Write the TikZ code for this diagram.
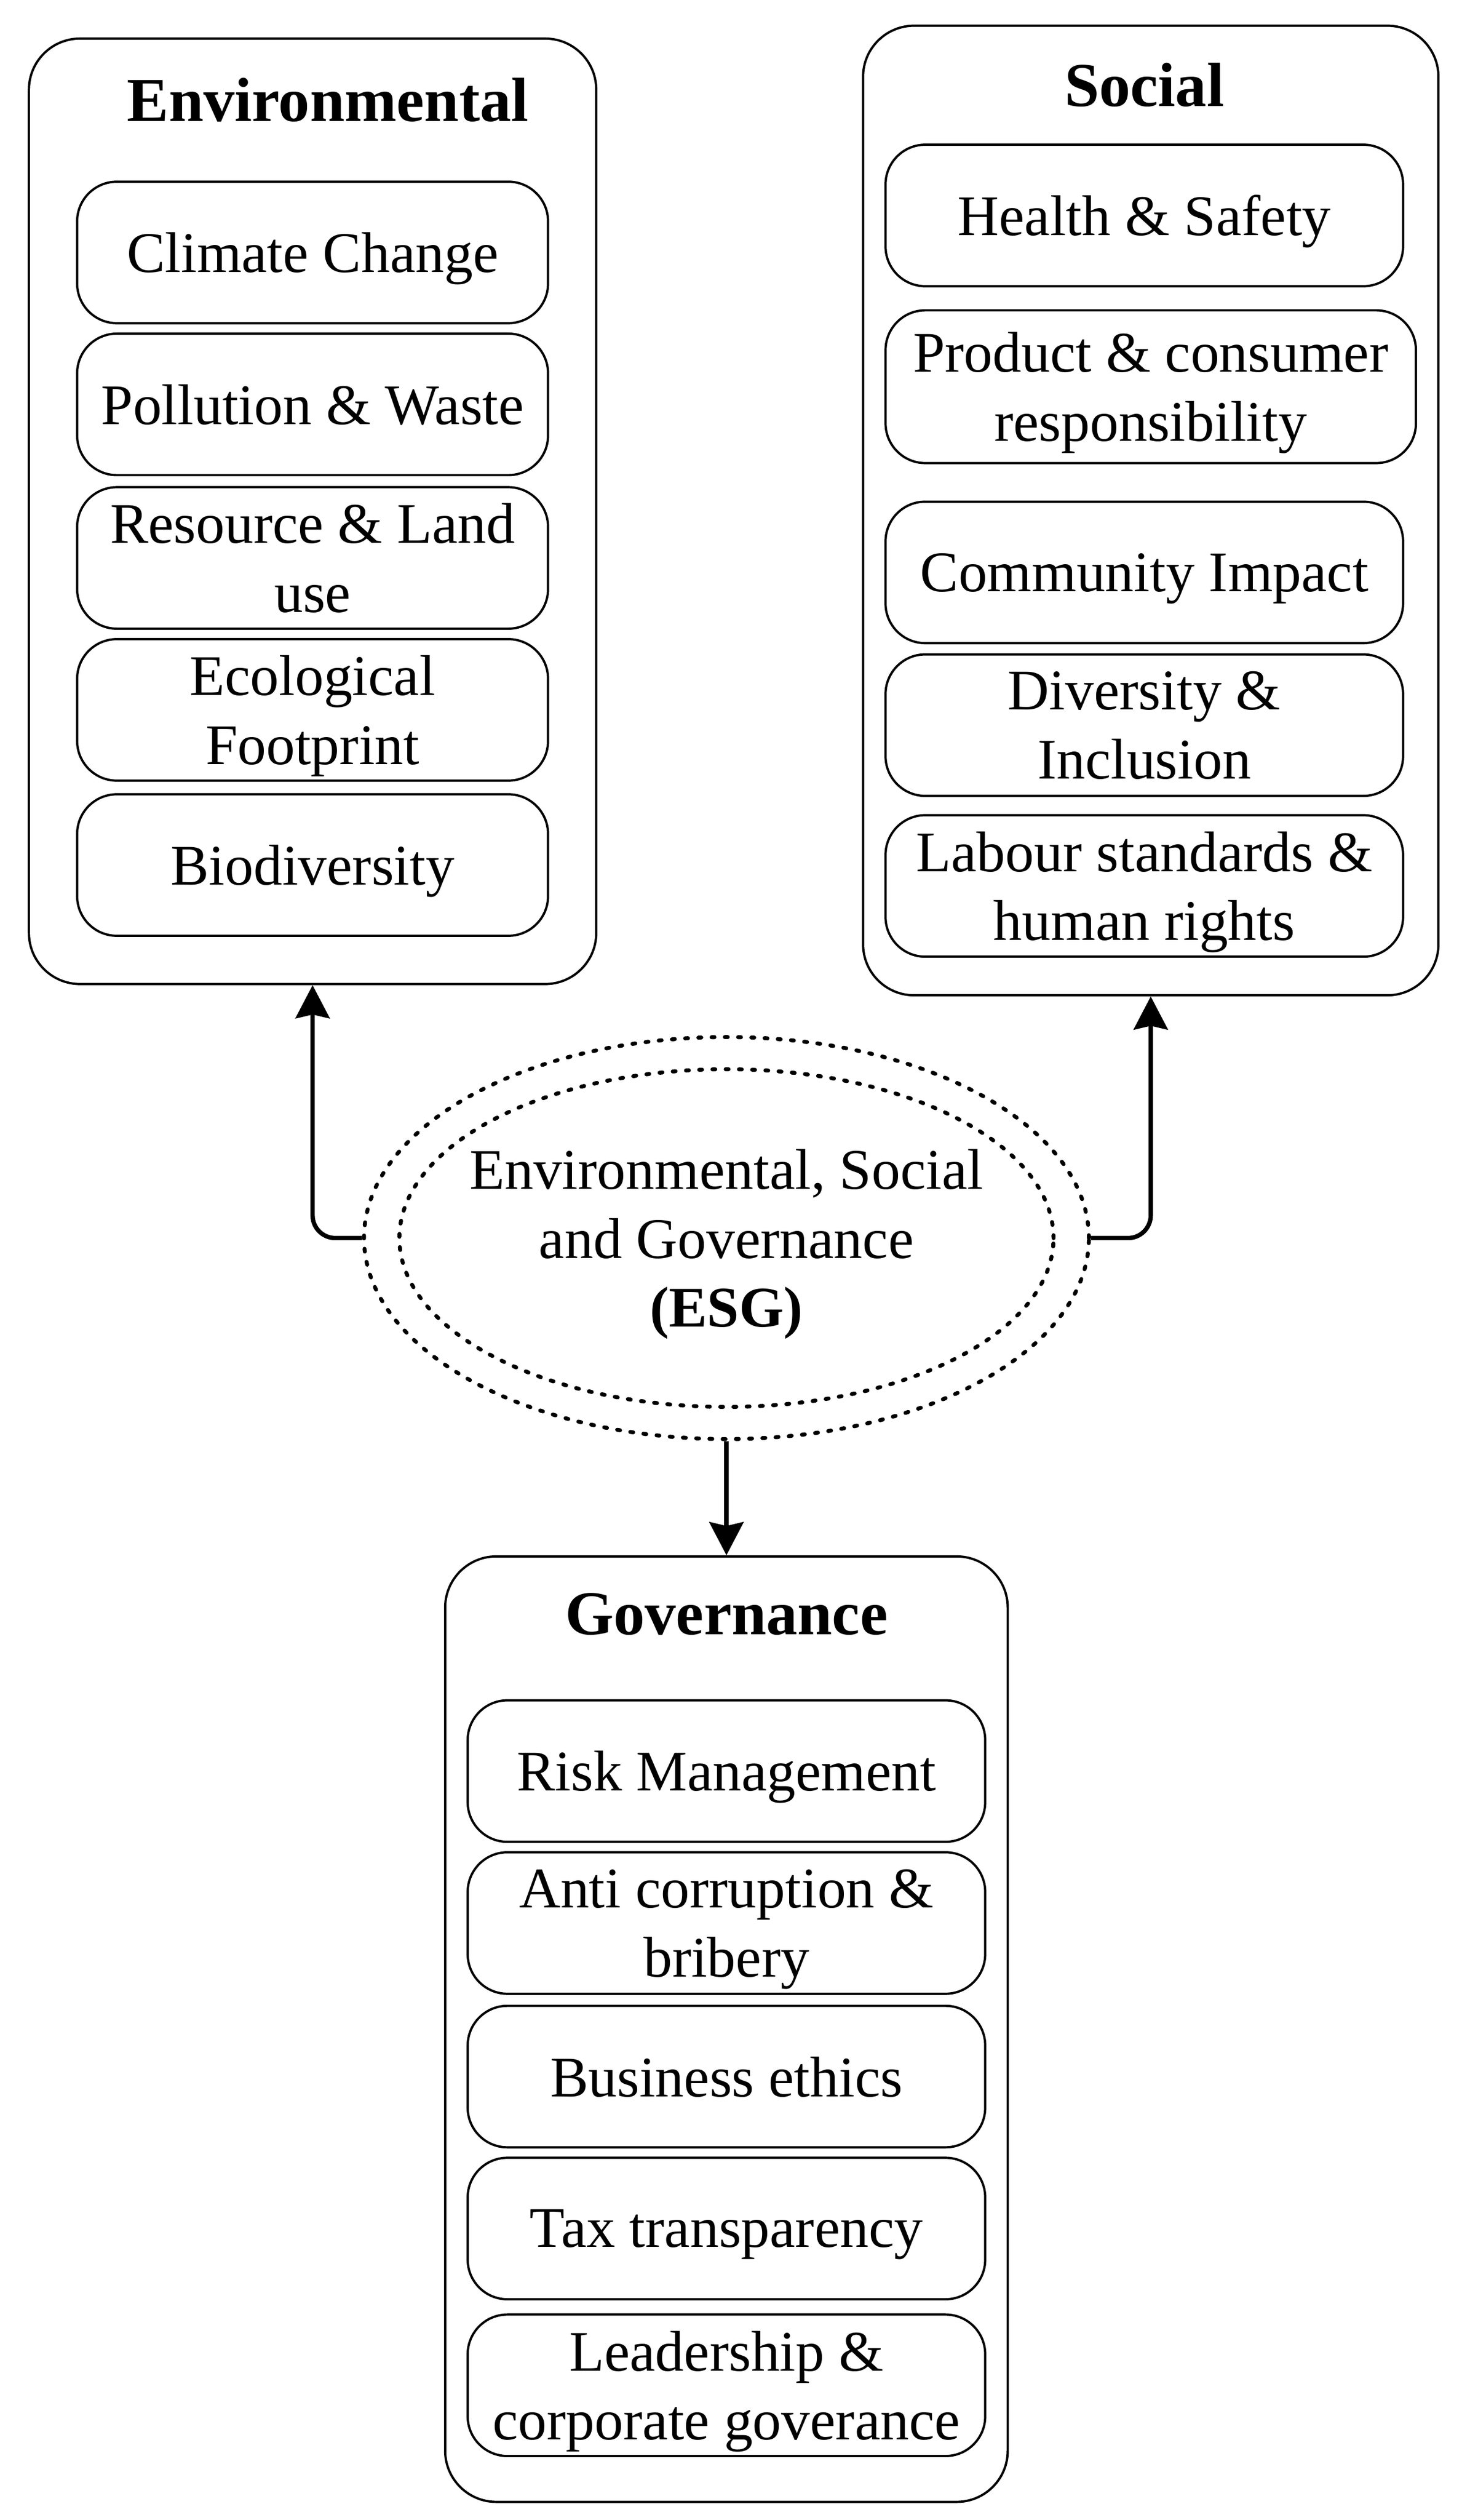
\documentclass[tikz,border=0pt]{standalone}
\usepackage{fontspec}
\setmainfont{Liberation Serif}
\usetikzlibrary{shapes.geometric,arrows.meta}

\begin{document}
\begin{tikzpicture}[x=0.2985mm, y=-0.2985mm,
        panel/.style={draw, line width=1.2pt, rounded corners=27pt},
        item/.style={draw, line width=1.2pt, rounded corners=21pt, align=center, text depth=0pt,
            minimum height=2.627cm, font=\fontsize{30.35}{36.4}\selectfont},
        head/.style={font=\fontsize{33}{39.8}\selectfont\bfseries},
        ring/.style={draw, ellipse, line width=2.1pt, line cap=round, dash pattern=on 1.5pt off 5.5pt, inner sep=0pt},
        link/.style={line width=2.3pt, rounded corners=12pt, -{Stealth[length=17.5pt, width=18pt, inset=2pt]}}]

        \useasboundingbox (0, 0) rectangle (914.6, 1567.3);

        % Environmental
        \node[panel, minimum width=10.537cm, minimum height=17.552cm] (env) at (194.5, 318) {};
        \node[head] (envtitle) at (204, 62) {Environmental};
        \node[item, minimum width=8.746cm] (climate) at (194.5, 157) {Climate Change};
        \node[item, minimum width=8.746cm] (pollution) at (194.5, 251.5) {Pollution \& Waste};
        \node[item, minimum width=8.746cm] (resource) at (194.5, 347) {Resource \& Land\\use};
        \node[item, minimum width=8.746cm] (footprint) at (194.5, 441.5) {Ecological\\Footprint};
        \node[item, minimum width=8.746cm] (biodiv) at (194.5, 538) {Biodiversity};

        % Social
        \node[panel, minimum width=10.686cm, minimum height=18cm] (soc) at (716, 317.5) {};
        \node[head] (soctitle) at (712, 53) {Social};
        \node[item, minimum width=9.612cm] (health) at (712, 134) {Health \& Safety};
        \node[item, minimum width=9.85cm, minimum height=2.836cm] (product) at (716, 240.5) {Product \& consumer\\responsibility};
        \node[item, minimum width=9.612cm] (community) at (712, 356) {Community Impact};
        \node[item, minimum width=9.612cm] (diversity) at (712, 451) {Diversity \&\\Inclusion};
        \node[item, minimum width=9.612cm] (labour) at (712, 551) {Labour standards \&\\human rights};

        % Governance
        \node[panel, minimum width=10.448cm, minimum height=17.552cm] (gov) at (452, 1262) {};
        \node[head] (govtitle) at (452, 1004) {Governance};
        \node[item, minimum width=9.612cm] (risk) at (452, 1101.5) {Risk Management};
        \node[item, minimum width=9.612cm] (bribery) at (452, 1196) {Anti corruption \&\\bribery};
        \node[item, minimum width=9.612cm] (ethics) at (452, 1291.5) {Business ethics};
        \node[item, minimum width=9.612cm] (tax) at (452, 1386) {Tax transparency};
        \node[item, minimum width=9.612cm] (leader) at (452, 1483.5) {Leadership \&\\corporate goverance};

        % ESG
        \node[ring, minimum width=13.462cm, minimum height=7.463cm] (esgout) at (452, 770) {};
        \node[ring, minimum width=12.149cm, minimum height=6.269cm] (esgin) at (452, 770) {};
        \node[align=center, text depth=0pt, font=\fontsize{30.35}{36.4}\selectfont] (esg) at (452, 770)
            {Environmental, Social\\and Governance\\\textbf{(ESG)}};

        \draw[link] (esgout.west) -| (env.south);
        \draw[link] (esgout.east) -| (soc.south);
        \draw[link] (esgout.south) -- (gov.north);

\end{tikzpicture}
\end{document}
